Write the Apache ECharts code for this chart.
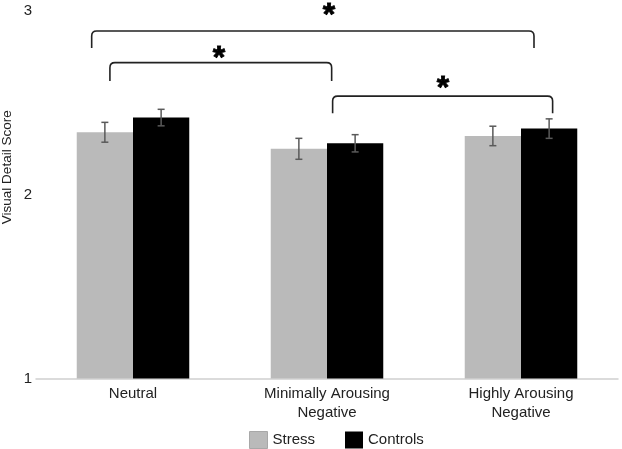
<!DOCTYPE html>
<html><head><meta charset="utf-8">
<script src="https://cdn.jsdelivr.net/npm/echarts@6/dist/echarts.min.js"></script>
<style>html,body{margin:0;padding:0;background:#fff}#c{width:622px;height:449px}</style>
</head><body><div id="c"></div>
<script>
const categories = ['Neutral', 'Minimally Arousing\nNegative', 'Highly Arousing\nNegative'];
const seriesNames = ['Stress', 'Controls'];
const stressValues = [2.34, 2.25, 2.32];
const stressErrors = [0.054, 0.057, 0.053];
const controlValues = [2.42, 2.28, 2.36];
const controlErrors = [0.045, 0.047, 0.053];
const yTicks = [1, 2, 3];
// significance comparisons, x in category units (0 = centre of first category), y in score units
const bracketLeft = [-0.213, -0.119, 1.029];
const bracketRight = [2.067, 1.024, 2.163];
const bracketTop = [2.891, 2.719, 2.537];
const bracketEnd = [2.799, 2.619, 2.444];
const starX = [1.010, 0.443, 1.598];
const starY = [3.011, 2.777, 2.612];
const starText = ['*', '*', '*'];

const FONT = 'Liberation Sans, Arial, sans-serif';
const chart = echarts.init(document.getElementById('c'), null, {renderer: 'canvas'});

function errData(vals, errs) {
  return vals.map((v, i) => [i, v - errs[i], v + errs[i]]);
}
function errorRender(sign) {
  return function (params, api) {
    const cat = api.value(0);
    const lo = api.coord([cat, api.value(1)]);
    const hi = api.coord([cat, api.value(2)]);
    const band = api.size([1, 0])[0];
    const x = lo[0] + sign * band * 0.145;
    const cap = 3.5;
    const st = {stroke: '#5a5a5a', lineWidth: 1.5};
    return {type: 'group', children: [
      {type: 'line', shape: {x1: x, y1: lo[1], x2: x, y2: hi[1]}, style: st},
      {type: 'line', shape: {x1: x - cap, y1: hi[1], x2: x + cap, y2: hi[1]}, style: st},
      {type: 'line', shape: {x1: x - cap, y1: lo[1], x2: x + cap, y2: lo[1]}, style: st}
    ]};
  };
}
function bracketRender(params, api) {
  const l = api.value(0), r = api.value(1), t = api.value(2), e = api.value(3);
  const p1 = api.coord([l, e]), p2 = api.coord([l, t]), p3 = api.coord([r, t]), p4 = api.coord([r, e]);
  const rad = 5;
  const d = 'M' + p1[0] + ' ' + p1[1] + ' L' + p2[0] + ' ' + (p2[1] + rad) +
    ' Q' + p2[0] + ' ' + p2[1] + ' ' + (p2[0] + rad) + ' ' + p2[1] +
    ' L' + (p3[0] - rad) + ' ' + p3[1] +
    ' Q' + p3[0] + ' ' + p3[1] + ' ' + p3[0] + ' ' + (p3[1] + rad) +
    ' L' + p4[0] + ' ' + p4[1];
  const s = api.coord([api.value(4), api.value(5)]);
  return {type: 'group', children: [
    {type: 'path', shape: {pathData: d}, style: {fill: 'none', stroke: '#222', lineWidth: 1.6}},
    {type: 'text', x: s[0], y: s[1] + 7, style: {text: starText[params.dataIndex], fontSize: 32, fontWeight: 'bold', fontFamily: FONT, fill: '#000', stroke: '#000', lineWidth: 0.8, align: 'center', verticalAlign: 'middle'}}
  ]};
}

const option = {
  animation: false,
  backgroundColor: '#fff',
  textStyle: {fontFamily: FONT},
  grid: {left: 36, right: 4, top: 11, bottom: 70.5, containLabel: false, outerBoundsMode: 'none'},
  legend: {
    left: 249, top: 431, itemWidth: 18, itemHeight: 17, itemGap: 30, padding: 0,
    icon: 'rect',
    textStyle: {fontSize: 15, color: '#222', fontFamily: FONT},
    data: [{name: seriesNames[0], itemStyle: {borderColor: '#a8a8a8', borderWidth: 1}}, {name: seriesNames[1]}]
  },
  xAxis: [{
    type: 'category', data: categories,
    axisLine: {lineStyle: {color: '#cfcfcf', width: 1.5}},
    axisTick: {show: false},
    axisLabel: {interval: 0, fontSize: 15, lineHeight: 19, color: '#222', margin: 6, fontFamily: FONT}
  }, {
    type: 'value', min: -0.5, max: 2.5, show: false
  }],
  yAxis: {
    type: 'value', min: yTicks[0], max: yTicks[yTicks.length - 1], interval: yTicks[1] - yTicks[0],
    axisLine: {show: false}, axisTick: {show: false}, splitLine: {show: false},
    axisLabel: {fontSize: 15, color: '#222', margin: 4, fontFamily: FONT},
    name: 'Visual Detail Score', nameLocation: 'middle', nameGap: 22, nameMoveOverlap: false,
    nameTextStyle: {fontSize: 13.5, color: '#222', fontFamily: FONT, padding: [0, 0, 0, 55]}
  },
  series: [
    {name: seriesNames[0], type: 'bar', data: stressValues, barWidth: '29%', barGap: '0%', itemStyle: {color: '#bababa'}},
    {name: seriesNames[1], type: 'bar', data: controlValues, barWidth: '29%', barGap: '0%', itemStyle: {color: '#000'}},
    {type: 'custom', data: errData(stressValues, stressErrors), renderItem: errorRender(-1), encode: {x: 0, y: [1, 2]}, z: 5, silent: true},
    {type: 'custom', data: errData(controlValues, controlErrors), renderItem: errorRender(1), encode: {x: 0, y: [1, 2]}, z: 5, silent: true},
    {type: 'custom', xAxisIndex: 1, clip: false, z: 6, silent: true,
      data: bracketLeft.map((l, i) => [l, bracketRight[i], bracketTop[i], bracketEnd[i], starX[i], starY[i]]),
      encode: {x: [0, 1, 4], y: [2, 3, 5]}, renderItem: bracketRender}
  ]
};
chart.setOption(option);
</script></body></html>
